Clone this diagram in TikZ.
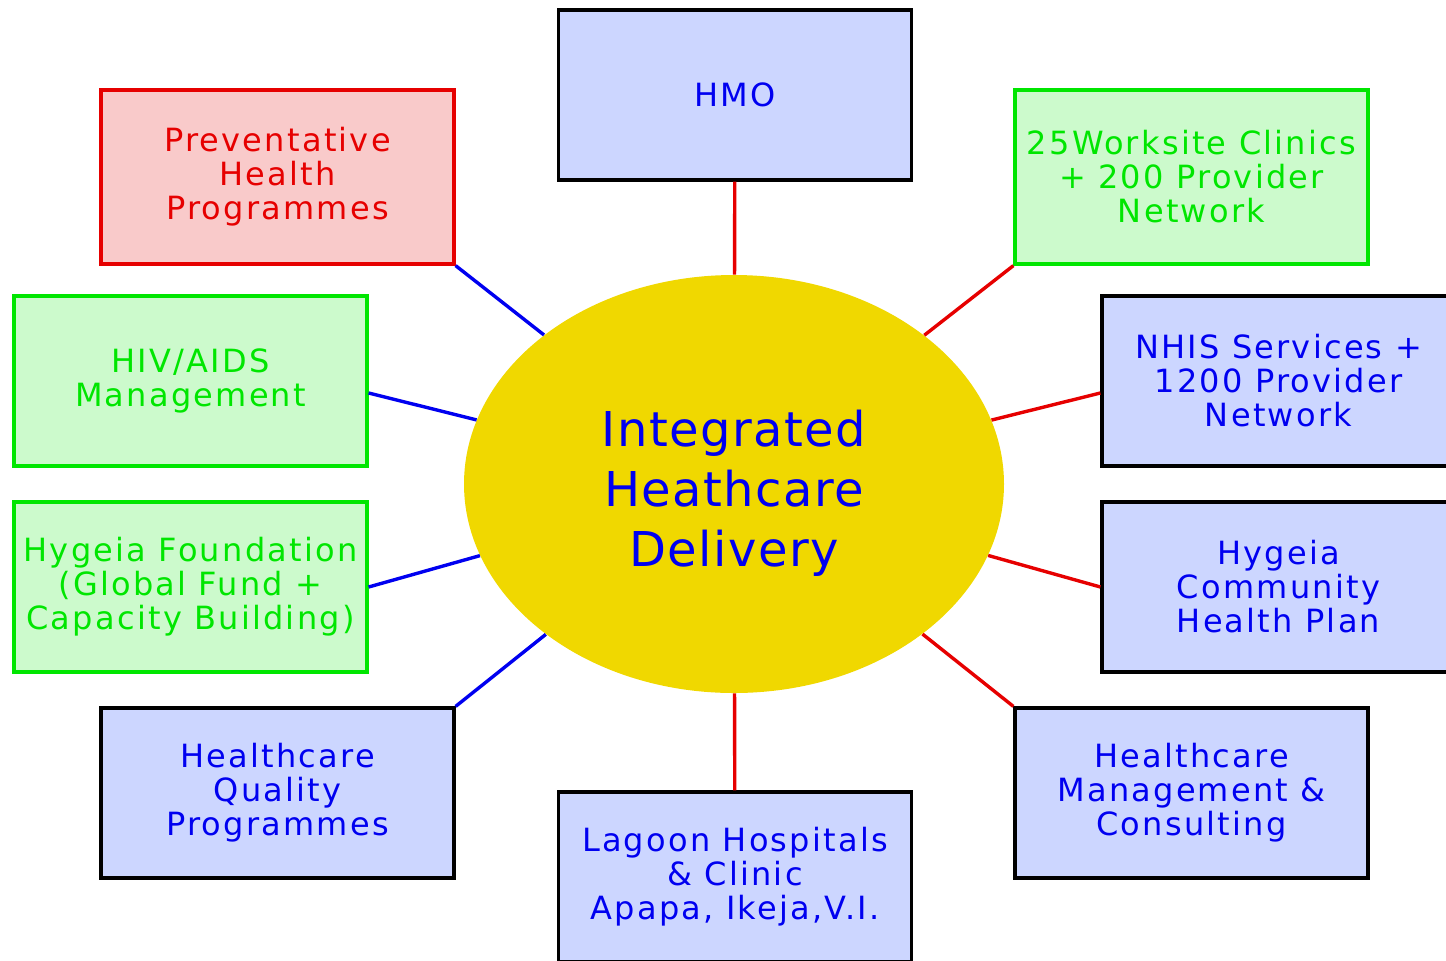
\documentclass[tikz,border=0pt]{standalone}
\usepackage{fontspec}
\setmainfont{DejaVu Sans}[LetterSpace=7]
\usetikzlibrary{shapes.geometric}
\definecolor{boxblue}{RGB}{204,214,255}
\definecolor{boxgreen}{RGB}{204,250,204}
\definecolor{boxpink}{RGB}{249,202,202}
\definecolor{txtblue}{RGB}{0,0,240}
\definecolor{txtgreen}{RGB}{0,230,0}
\definecolor{txtred}{RGB}{230,0,0}
\definecolor{hubyellow}{RGB}{240,216,0}
\tikzset{
  box/.style={draw,line width=1.6pt,minimum width=176.5pt,minimum height=85pt,
    align=center,inner sep=0pt,font=\fontsize{16}{17}\selectfont},
  bluebox/.style={box,draw=black,fill=boxblue,text=txtblue},
  greenbox/.style={box,draw=txtgreen,fill=boxgreen,text=txtgreen},
  redbox/.style={box,draw=txtred,fill=boxpink,text=txtred},
  hub/.style={ellipse,fill=hubyellow,text=txtblue,minimum width=270pt,
    minimum height=209pt,inner sep=0pt,align=center,
    font=\fontsize{24}{30}\selectfont\addfontfeatures{LetterSpace=3}},
  leftlink/.style={draw=txtblue,line width=1.7pt},
  rightlink/.style={draw=txtred,line width=1.7pt}
}
\begin{document}
\begin{tikzpicture}[x=0.5pt,y=-0.5pt]
  \useasboundingbox (0,0) rectangle (1446,960);
  \clip (0,0) rectangle (1446,960);
  \node[hub] (hub) at (734,484) {\rule{0pt}{27pt}Integrated\\Heathcare\\Delivery};
  \node[bluebox] (hmo) at (735,95) {HMO};
  \node[redbox,minimum height=87pt] (prev) at (277.5,177) {Preventative\\Health\\Programmes};
  \node[greenbox,minimum height=87pt] (site) at (1191.5,177) {25Worksite Clinics\\+ 200 Provider\\Network};
  \node[greenbox] (hiv) at (190.5,381) {HIV/AIDS\\Management};
  \node[bluebox] (nhis) at (1278.5,381) {NHIS Services +\\1200 Provider\\Network};
  \node[greenbox] (fund) at (190.5,587) {Hygeia Foundation\\(Global Fund +\\Capacity Building)};
  \node[bluebox] (plan) at (1278.5,587) {Hygeia\\Community\\Health Plan};
  \node[bluebox] (qual) at (277.5,793) {Healthcare\\Quality\\Programmes};
  \node[bluebox] (mgmt) at (1191.5,793) {Healthcare\\Management \&\\Consulting};
  \node[bluebox] (lagoon) at (735,877) {Lagoon Hospitals\\\& Clinic\\Apapa, Ikeja,V.I.};
  % links, left side blue and right side red
  \draw[rightlink] (hmo) -- (hub);
  \draw[rightlink] (lagoon) -- (hub);
  \draw[leftlink] (prev.south east) -- (hub);
  \draw[leftlink] ([yshift=-6pt]hiv.east) -- (hub);
  \draw[leftlink] (fund.east) -- (hub);
  \draw[leftlink] (qual.north east) -- (hub);
  \draw[rightlink] (site.south west) -- (hub);
  \draw[rightlink] ([yshift=-6pt]nhis.west) -- (hub);
  \draw[rightlink] (plan.west) -- (hub);
  \draw[rightlink] (mgmt.north west) -- (hub);
\end{tikzpicture}
\end{document}
